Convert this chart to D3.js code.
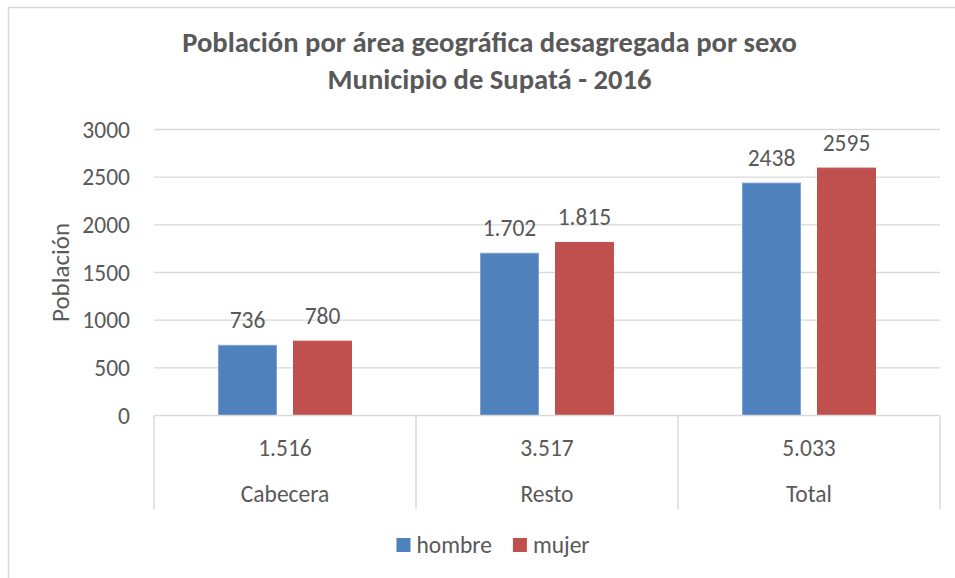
<!DOCTYPE html>
<html>
<head>
<meta charset="utf-8">
<script src="https://cdn.jsdelivr.net/npm/d3@7"></script>
<style>
  html, body { margin: 0; padding: 0; background: #fff; }
  svg { display: block; }
  text { font-family: Carlito, Lato, "Open Sans", sans-serif; fill: #595959; }
</style>
</head>
<body>
<svg id="chart" width="955" height="578"></svg>
<script>
// ---- data ----
const categories = ["Cabecera", "Resto", "Total"];
const totals = ["1.516", "3.517", "5.033"];
const series = ["hombre", "mujer"];
const hombre = [736, 1702, 2438];
const mujer = [780, 1815, 2595];
const hombreLabels = ["736", "1.702", "2438"];
const mujerLabels = ["780", "1.815", "2595"];
const yTicks = [0, 500, 1000, 1500, 2000, 2500, 3000];
const titleLines = ["Población por área geográfica desagregada por sexo", "Municipio de Supatá - 2016"];
const yTitle = "Población";
const colors = { hombre: "#4F81BD", mujer: "#C0504D" };
const strokes = { hombre: "#7FA3D0", mujer: "#C0504D" };

const svg = d3.select("#chart");
const W = 955, H = 578;
const plot = { left: 154, right: 940, top: 129.5, bottom: 415.5 };
const axisBottom = 509;
const grid = "#D9D9D9";
const FS = 23.5;

svg.append("rect").attr("width", W).attr("height", H).attr("fill", "#fff");
// outer chart border (extends beyond the cropped picture)
svg.append("rect").attr("x", 8.5).attr("y", 7.5).attr("width", 980).attr("height", 600)
  .attr("fill", "none").attr("stroke", grid).attr("stroke-width", 1.5);

const y = d3.scaleLinear().domain([0, 3000]).range([plot.bottom, plot.top]);
const x0 = d3.scaleBand().domain(categories).range([plot.left, plot.right]).padding(0);
const x1 = d3.scaleBand().domain(series).range([0, x0.bandwidth()])
  .paddingInner(0.2133).paddingOuter(0.853);

// gridlines
svg.append("g").selectAll("line").data(yTicks.filter(d => d > 0)).join("line")
  .attr("x1", plot.left).attr("x2", plot.right)
  .attr("y1", d => y(d)).attr("y2", d => y(d))
  .attr("stroke", grid).attr("stroke-width", 1.3);

// y axis labels via d3 axis
const yAxis = svg.append("g").attr("transform", `translate(${plot.left - 24},0)`)
  .call(d3.axisLeft(y).tickValues(yTicks).tickFormat(d3.format("d")).tickSize(0).tickPadding(0));
yAxis.select(".domain").remove();
yAxis.attr("font-size", null).attr("font-family", null);
yAxis.selectAll("text").attr("font-size", FS).attr("fill", "#595959");

// y title
svg.append("text")
  .attr("transform", `translate(69, ${(plot.top + plot.bottom) / 2}) rotate(-90)`)
  .attr("text-anchor", "middle").attr("font-size", 25).text(yTitle);

// bars
const rows = categories.map((c, i) => ({
  cat: c,
  vals: [
    { key: "hombre", v: hombre[i], label: hombreLabels[i] },
    { key: "mujer", v: mujer[i], label: mujerLabels[i] }
  ]
}));
const groups = svg.append("g").selectAll("g").data(rows).join("g")
  .attr("transform", d => `translate(${x0(d.cat)},0)`);
groups.selectAll("rect").data(d => d.vals).join("rect")
  .attr("x", d => x1(d.key) + 0.5)
  .attr("y", d => y(d.v))
  .attr("width", x1.bandwidth() - 1)
  .attr("height", d => y(0) - y(d.v))
  .attr("fill", d => colors[d.key])
  .attr("stroke", d => strokes[d.key]).attr("stroke-width", 1);
groups.selectAll("text").data(d => d.vals).join("text")
  .attr("x", d => x1(d.key) + x1.bandwidth() / 2)
  .attr("y", d => y(d.v) - 17.5)
  .attr("text-anchor", "middle").attr("font-size", FS).attr("fill", "#404040")
  .text(d => d.label);

// category axis (multi-level)
svg.append("line").attr("x1", plot.left).attr("x2", plot.right)
  .attr("y1", y(0)).attr("y2", y(0)).attr("stroke", grid).attr("stroke-width", 1.5);
const bounds = categories.map(c => x0(c)).concat([x0(categories[categories.length - 1]) + x0.bandwidth()]);
svg.append("g").selectAll("line").data(bounds).join("line")
  .attr("x1", d => d).attr("x2", d => d)
  .attr("y1", y(0)).attr("y2", axisBottom)
  .attr("stroke", grid).attr("stroke-width", 1.5);
svg.append("g").selectAll("text").data(categories).join("text")
  .attr("x", d => x0(d) + x0.bandwidth() / 2).attr("y", 456)
  .attr("text-anchor", "middle").attr("font-size", FS)
  .text((d, i) => totals[i]);
svg.append("g").selectAll("text").data(categories).join("text")
  .attr("x", d => x0(d) + x0.bandwidth() / 2).attr("y", 502)
  .attr("text-anchor", "middle").attr("font-size", FS)
  .text(d => d);

// title, fitted to the reference width
const titleCx = 489.5;
const tl = svg.append("g").selectAll("text").data(titleLines).join("text")
  .attr("x", titleCx).attr("y", (d, i) => [52, 89][i])
  .attr("text-anchor", "middle").attr("font-weight", "bold").attr("font-size", 22)
  .attr("fill", "#595959").text(d => d);
const w0 = tl.nodes()[0].getComputedTextLength();
const fs = 22 * 615 / w0;
tl.attr("font-size", fs);

// legend
const legend = svg.append("g");
let lx = 0;
series.forEach((s, i) => {
  const g = legend.append("g");
  g.append("rect").attr("x", 0).attr("y", 538).attr("width", 14).attr("height", 14).attr("fill", colors[s]);
  const t = g.append("text").attr("x", 20).attr("y", 553).attr("font-size", FS).text(s);
  const w = 20 + t.node().getComputedTextLength();
  g.attr("transform", `translate(${lx},0)`);
  lx += w + (i < series.length - 1 ? 21 : 0);
});
legend.attr("transform", `translate(${493 - lx / 2},0)`);
</script>
</body>
</html>
